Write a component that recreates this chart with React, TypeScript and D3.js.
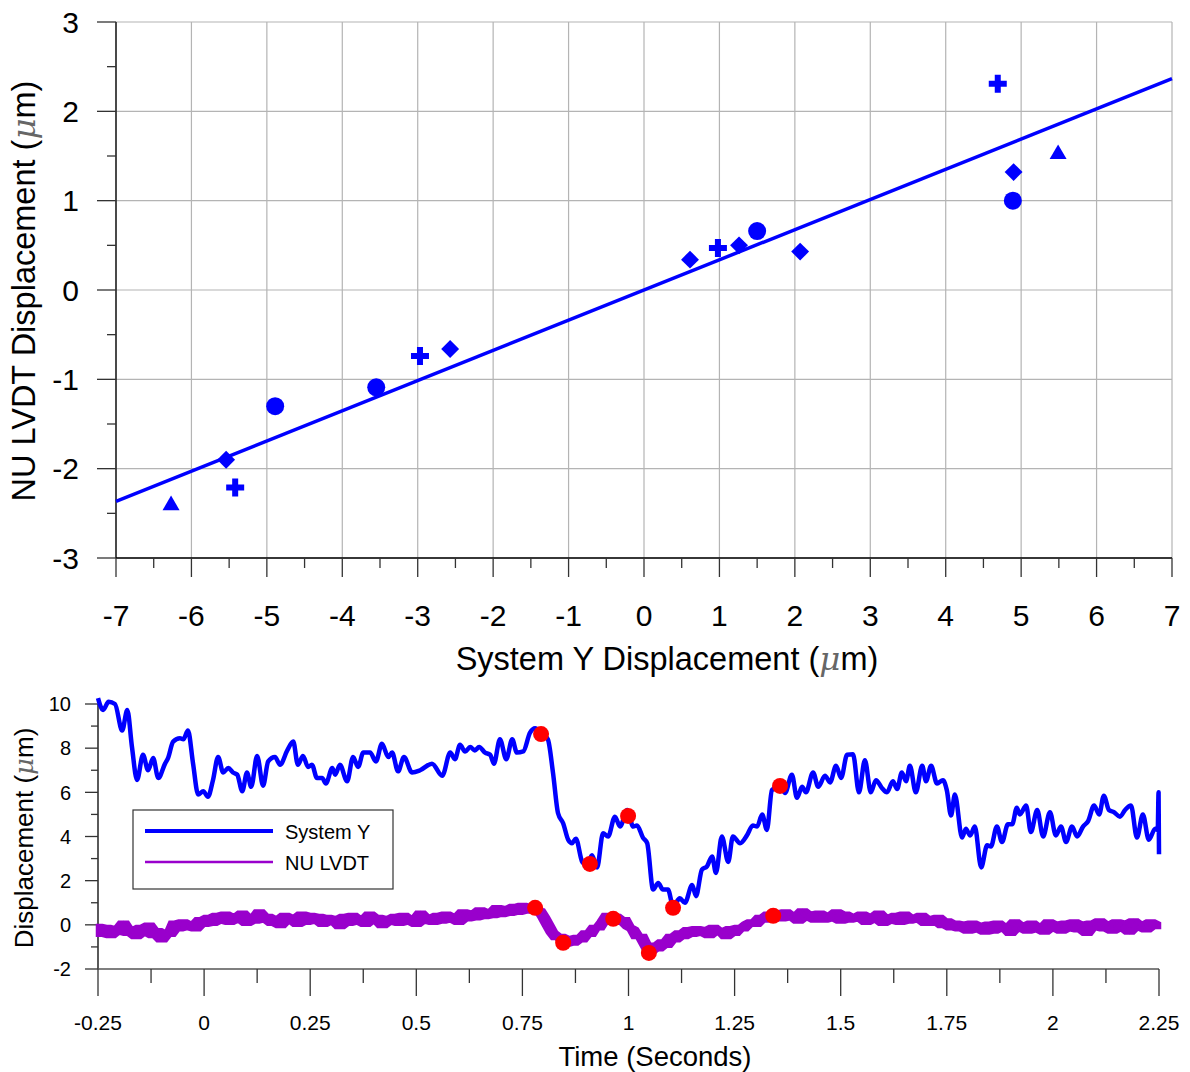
import React from 'react';
import * as d3 from 'd3';

// ---------- Top chart data ----------
const circleX = [-4.89, -3.55, 1.5, 4.89];
const circleY = [-1.3, -1.09, 0.66, 1.0];
const diamondX = [-5.54, -2.57, 0.61, 1.26, 2.07, 4.9];
const diamondY = [-1.9, -0.66, 0.34, 0.5, 0.43, 1.32];
const plusX = [-5.42, -2.97, 0.98, 4.69];
const plusY = [-2.21, -0.74, 0.47, 2.31];
const triangleX = [-6.27, 5.49];
const triangleY = [-2.41, 1.52];
const fitSlope = 0.338;
const fitXRange = [-7, 7];
const topXTicks = [-7, -6, -5, -4, -3, -2, -1, 0, 1, 2, 3, 4, 5, 6, 7];
const topYTicks = [-3, -2, -1, 0, 1, 2, 3];

// ---------- Bottom chart data ----------
const sysT = [
  -0.25, -0.238, -0.225, -0.21, -0.193, -0.181, -0.17, -0.158, -0.144, -0.132,
  -0.12, -0.108, -0.092, -0.085, -0.073, -0.057, -0.049, -0.038, -0.026, -0.014,
  -0.002, 0.009, 0.021, 0.033, 0.045, 0.057, 0.068, 0.078, 0.09, 0.101,
  0.111, 0.125, 0.139, 0.151, 0.167, 0.179, 0.196, 0.21, 0.221, 0.233,
  0.245, 0.254, 0.266, 0.278, 0.287, 0.302, 0.309, 0.32, 0.337, 0.351,
  0.363, 0.375, 0.391, 0.405, 0.419, 0.434, 0.443, 0.457, 0.471, 0.49,
  0.509, 0.537, 0.561, 0.58, 0.591, 0.603, 0.615, 0.627, 0.638, 0.648,
  0.662, 0.674, 0.683, 0.697, 0.712, 0.726, 0.737, 0.752, 0.768, 0.78,
  0.796, 0.81, 0.822, 0.834, 0.846, 0.858, 0.867, 0.876, 0.891, 0.902,
  0.914, 0.926, 0.94, 0.952, 0.968, 0.98, 0.997, 1.011, 1.02, 1.034,
  1.044, 1.058, 1.07, 1.081, 1.093, 1.105, 1.121, 1.133, 1.15, 1.159,
  1.173, 1.185, 1.197, 1.206, 1.22, 1.235, 1.246, 1.263, 1.279, 1.293,
  1.303, 1.315, 1.326, 1.338, 1.357, 1.369, 1.385, 1.397, 1.409, 1.418,
  1.435, 1.447, 1.463, 1.475, 1.489, 1.501, 1.515, 1.529, 1.543, 1.557,
  1.571, 1.583, 1.597, 1.609, 1.623, 1.633, 1.644, 1.654, 1.663, 1.677,
  1.692, 1.701, 1.713, 1.727, 1.741, 1.75, 1.76, 1.769, 1.786, 1.795,
  1.805, 1.816, 1.831, 1.845, 1.854, 1.868, 1.88, 1.894, 1.904, 1.915,
  1.922, 1.937, 1.948, 1.963, 1.977, 1.993, 2.007, 2.019, 2.031, 2.045,
  2.057, 2.071, 2.083, 2.097, 2.109, 2.12, 2.132, 2.144, 2.158, 2.17,
  2.184, 2.198, 2.212, 2.226, 2.241, 2.247, 2.249, 2.25,
];
const sysV = [
  10.27, 9.73, 10.1, 10.0, 8.8, 9.73, 8.06, 6.56, 7.7, 7.0,
  7.55, 6.65, 7.3, 7.55, 8.3, 8.45, 8.4, 8.8, 7.3, 5.9,
  6.05, 5.8, 6.56, 7.6, 6.9, 7.1, 6.9, 6.8, 6.05, 6.9,
  6.25, 7.65, 6.3, 7.4, 7.6, 7.25, 7.9, 8.3, 7.25, 7.65,
  7.15, 7.25, 6.65, 6.65, 6.4, 7.1, 6.8, 7.25, 6.5, 7.6,
  7.15, 7.8, 7.8, 7.4, 8.2, 7.6, 7.8, 6.95, 7.6, 6.9,
  7.0, 7.3, 6.75, 7.8, 7.5, 8.15, 7.85, 8.05, 7.9, 8.05,
  7.8, 7.7, 7.3, 8.4, 7.5, 8.4, 7.8, 7.85, 8.7, 8.9,
  8.65, 8.4, 6.9, 5.05, 4.6, 3.85, 3.7, 3.9, 2.85, 2.7,
  3.15, 2.6, 4.15, 4.0, 4.9, 4.45, 5.2, 4.45, 4.5, 3.95,
  3.7, 1.6, 1.9, 1.6, 1.6, 0.85, 1.2, 1.0, 1.8, 1.3,
  2.5, 2.65, 3.1, 2.35, 4.0, 2.85, 4.0, 3.7, 4.05, 4.5,
  4.45, 5.0, 4.3, 6.1, 6.3, 5.97, 6.8, 5.75, 6.25, 6.0,
  6.9, 6.25, 6.75, 6.45, 7.2, 6.65, 7.7, 7.72, 6.0, 7.45,
  6.0, 6.55, 6.2, 6.0, 6.5, 6.15, 6.9, 6.5, 7.2, 6.0,
  7.2, 6.5, 7.2, 6.4, 6.55, 6.1, 4.95, 5.9, 3.95, 4.35,
  4.05, 4.45, 2.6, 3.6, 3.55, 4.45, 3.75, 4.55, 4.55, 5.3,
  5.0, 5.4, 4.2, 5.2, 4.0, 5.1, 4.05, 4.45, 3.75, 4.45,
  4.0, 4.45, 4.7, 5.4, 5.0, 5.85, 5.2, 5.1, 4.9, 5.2,
  5.4, 3.95, 5.0, 3.85, 4.35, 4.3, 6.0, 3.2,
];

// NU LVDT samples every 0.01 s from -0.25 s
const lvdtStart = -0.25;
const lvdtStep = 0.01;
const lvdtV = [
  -0.05, -0.45, -0.1, -0.5, -0.15, -0.35, 0.1, -0.4, -0.2, -0.55,
  -0.1, -0.4, 0.0, -0.5, -0.25, -0.7, -0.35, -0.45, 0.1, -0.2,
  0.15, -0.15, 0.05, -0.2, 0.25, 0.0, 0.35, 0.05, 0.45, 0.15,
  0.5, 0.1, 0.4, 0.2, 0.55, 0.05, 0.35, 0.15, 0.6, 0.2,
  0.4, 0.05, 0.3, -0.05, 0.45, 0.15, 0.35, 0.0, 0.5, 0.1,
  0.45, 0.15, 0.4, 0.0, 0.35, 0.1, 0.3, -0.1, 0.4, 0.05,
  0.45, 0.1, 0.3, 0.0, 0.5, 0.15, 0.35, -0.05, 0.3, 0.1,
  0.4, 0.05, 0.45, 0.1, 0.3, 0.0, 0.55, 0.15, 0.35, 0.1,
  0.45, 0.15, 0.5, 0.2, 0.4, 0.1, 0.6, 0.25, 0.55, 0.3,
  0.7, 0.35, 0.6, 0.4, 0.8, 0.45, 0.75, 0.5, 0.85, 0.55,
  0.9, 0.6, 0.85, 0.7, 0.65, 0.35, 0.0, -0.35, -0.6, -0.5,
  -0.9, -0.6, -0.85, -0.55, -0.7, -0.35, -0.45, -0.1, -0.15, 0.15,
  0.45, 0.2, 0.4, 0.1, 0.25, -0.1, -0.2, -0.55, -0.5, -0.9,
  -1.25, -0.9, -1.1, -0.75, -0.95, -0.5, -0.7, -0.35, -0.55, -0.2,
  -0.45, -0.15, -0.4, -0.2, -0.5, -0.1, -0.35, -0.25, -0.55, -0.15,
  -0.4, -0.1, -0.2, 0.05, 0.15, 0.0, 0.35, 0.2, 0.5, 0.3,
  0.55, 0.25, 0.6, 0.3, 0.45, 0.15, 0.65, 0.3, 0.5, 0.2,
  0.55, 0.2, 0.45, 0.25, 0.6, 0.15, 0.5, 0.2, 0.4, 0.25,
  0.5, 0.1, 0.4, 0.2, 0.55, 0.05, 0.35, 0.15, 0.45, 0.1,
  0.5, 0.15, 0.35, 0.2, 0.45, 0.05, 0.3, 0.1, 0.35, -0.05,
  0.2, -0.15, 0.1, -0.2, 0.05, -0.3, 0.1, -0.25, 0.0, -0.35,
  0.05, -0.3, 0.1, -0.2, -0.05, -0.4, 0.15, -0.2, 0.0, -0.3,
  0.1, -0.25, -0.05, -0.35, 0.15, -0.2, 0.05, -0.3, 0.1, -0.2,
  0.15, -0.25, 0.05, -0.4, 0.1, -0.15, 0.2, -0.2, 0.05, -0.3,
  0.15, -0.2, 0.1, -0.35, 0.2, -0.15, 0.05, -0.25, 0.15, -0.1,
  0.05,
];

const sysDotT = [0.794, 0.909, 0.999, 1.105, 1.357];
const sysDotV = [8.64, 2.76, 4.93, 0.77, 6.29];
const lvdtDotT = [0.78, 0.846, 0.964, 1.048, 1.341];
const lvdtDotV = [0.77, -0.81, 0.27, -1.27, 0.41];

const botXTicks = [-0.25, 0, 0.25, 0.5, 0.75, 1, 1.25, 1.5, 1.75, 2, 2.25];
const botXLabels = ['-0.25', '0', '0.25', '0.5', '0.75', '1', '1.25', '1.5', '1.75', '2', '2.25'];
const botYTicks = [-2, 0, 2, 4, 6, 8, 10];
const legendLabels = ['System Y', 'NU LVDT'];

const FONT = "'Liberation Sans', Arial, Helvetica, sans-serif";
const BLUE = '#0000ff';
const PURPLE = '#9900cc';
const RED = '#ff0000';
const GRID = '#b4b4b4';

const Mu = () => (
  <tspan fontFamily="'DejaVu Serif', 'Liberation Serif', serif" fontStyle="italic" fontWeight={200} fill="#666">μ</tspan>
);

export default function App() {
  const xT = d3.scaleLinear().domain([-7, 7]).range([116, 1172]);
  const yT = d3.scaleLinear().domain([-3, 3]).range([558, 22]);
  const xB = d3.scaleLinear().domain([-0.25, 2.25]).range([98, 1159]);
  const yB = d3.scaleLinear().domain([-2, 10]).range([969, 704]);

  const topMinorX = d3.range(-6.5, 7, 1);
  const topMinorY = d3.range(-2.5, 3, 1);
  const botMinorX = d3.range(-0.125, 2.25, 0.25);
  const botMinorY = [-1, 1, 3, 5, 7, 9];

  const sym = (type: any, size: number) => d3.symbol().type(type).size(size)() as string;
  const triPath = sym(d3.symbolTriangle, 125);
  const diamondPath = sym(d3.symbolSquare, 160);
  const crossPath = sym(d3.symbolCross, 180);

  const sysLine = d3
    .line<number>()
    .x((_, i) => xB(sysT[i]))
    .y((d) => yB(d))
    .curve(d3.curveMonotoneX)(sysV) as string;

  const lvdtX = (i: number) => xB(lvdtStart + i * lvdtStep);
  const lvdtLine = d3
    .line<number>()
    .x((_, i) => lvdtX(i))
    .y((d) => yB(d))(lvdtV) as string;

  // band covered by the noisy trace (extent of neighbouring samples)
  const win = (i: number) => lvdtV.slice(Math.max(0, i - 1), Math.min(lvdtV.length, i + 2));
  const lvdtBand = d3
    .area<number>()
    .x((_, i) => lvdtX(i))
    .y0((_, i) => yB(d3.min(win(i)) as number))
    .y1((_, i) => yB(d3.max(win(i)) as number))(lvdtV) as string;

  return (
    <svg
      width={1190}
      height={1072}
      style={{ position: 'absolute', left: 0, top: 0, background: '#fff' }}
      fontFamily={FONT}
    >
      <rect x={0} y={0} width={1190} height={1072} fill="#fff" />
      {/* ================= TOP CHART ================= */}
      {topXTicks.map((t) => (
        <line key={'gx' + t} x1={xT(t)} x2={xT(t)} y1={yT(3)} y2={yT(-3)} stroke={GRID} strokeWidth={1.2} />
      ))}
      {topYTicks.map((t) => (
        <line key={'gy' + t} x1={xT(-7)} x2={xT(7)} y1={yT(t)} y2={yT(t)} stroke={GRID} strokeWidth={1.2} />
      ))}
      <line x1={xT(-7)} x2={xT(-7)} y1={yT(3)} y2={yT(-3)} stroke="#000" strokeWidth={1.3} />
      <line x1={xT(-7)} x2={xT(7)} y1={yT(-3)} y2={yT(-3)} stroke="#000" strokeWidth={1.3} />
      {topYTicks.map((t) => (
        <g key={'yt' + t}>
          <line x1={xT(-7) - 19} x2={xT(-7)} y1={yT(t)} y2={yT(t)} stroke="#333" strokeWidth={1.3} />
          <text x={79} y={yT(t)} dy="0.36em" textAnchor="end" fontSize={30}>
            {t}
          </text>
        </g>
      ))}
      {topMinorY.map((t) => (
        <line key={'ymt' + t} x1={xT(-7) - 9} x2={xT(-7)} y1={yT(t)} y2={yT(t)} stroke="#333" strokeWidth={1.3} />
      ))}
      {topXTicks.map((t) => (
        <g key={'xt' + t}>
          <line x1={xT(t)} x2={xT(t)} y1={yT(-3)} y2={yT(-3) + 19} stroke="#333" strokeWidth={1.3} />
          <text x={xT(t)} y={626} textAnchor="middle" fontSize={30}>
            {t}
          </text>
        </g>
      ))}
      {topMinorX.map((t) => (
        <line key={'xmt' + t} x1={xT(t)} x2={xT(t)} y1={yT(-3)} y2={yT(-3) + 10} stroke="#333" strokeWidth={1.3} />
      ))}
      <text x={667} y={670} textAnchor="middle" fontSize={32.5}>
        System Y Displacement (<Mu />m)
      </text>
      <text transform={`translate(35,${yT(0) + 1}) rotate(-90)`} textAnchor="middle" fontSize={32.5}>
        NU LVDT Displacement (<Mu />m)
      </text>
      <line
        x1={xT(fitXRange[0])}
        y1={yT(fitSlope * fitXRange[0])}
        x2={xT(fitXRange[1])}
        y2={yT(fitSlope * fitXRange[1])}
        stroke={BLUE}
        strokeWidth={3.5}
      />
      {circleX.map((x, i) => (
        <circle key={'c' + i} cx={xT(x)} cy={yT(circleY[i])} r={9} fill={BLUE} />
      ))}
      {diamondX.map((x, i) => (
        <path key={'d' + i} d={diamondPath} transform={`translate(${xT(x)},${yT(diamondY[i])}) rotate(45)`} fill={BLUE} />
      ))}
      {plusX.map((x, i) => (
        <path key={'p' + i} d={crossPath} transform={`translate(${xT(x)},${yT(plusY[i])})`} fill={BLUE} />
      ))}
      {triangleX.map((x, i) => (
        <path key={'t' + i} d={triPath} transform={`translate(${xT(x)},${yT(triangleY[i])})`} fill={BLUE} />
      ))}

      {/* ================= BOTTOM CHART ================= */}
      <line x1={xB(-0.25)} x2={xB(-0.25)} y1={yB(10)} y2={yB(-2)} stroke="#000" strokeWidth={1.3} />
      <line x1={xB(-0.25)} x2={xB(2.25)} y1={yB(-2)} y2={yB(-2)} stroke="#555" strokeWidth={1.3} />
      {botYTicks.map((t) => (
        <g key={'byt' + t}>
          <line x1={xB(-0.25) - 13} x2={xB(-0.25)} y1={yB(t)} y2={yB(t)} stroke="#333" strokeWidth={1.3} />
          <text x={71} y={yB(t)} dy="0.36em" textAnchor="end" fontSize={20}>
            {t}
          </text>
        </g>
      ))}
      {botMinorY.map((t) => (
        <line key={'bymt' + t} x1={xB(-0.25) - 7} x2={xB(-0.25)} y1={yB(t)} y2={yB(t)} stroke="#333" strokeWidth={1.3} />
      ))}
      {botXTicks.map((t, i) => (
        <g key={'bxt' + t}>
          <line x1={xB(t)} x2={xB(t)} y1={yB(-2)} y2={yB(-2) + 27} stroke="#333" strokeWidth={1.3} />
          <text x={xB(t)} y={1030} textAnchor="middle" fontSize={21}>
            {botXLabels[i]}
          </text>
        </g>
      ))}
      {botMinorX.map((t) => (
        <line key={'bxmt' + t} x1={xB(t)} x2={xB(t)} y1={yB(-2)} y2={yB(-2) + 14} stroke="#333" strokeWidth={1.3} />
      ))}
      <text x={655} y={1066} textAnchor="middle" fontSize={27.5}>
        Time (Seconds)
      </text>
      <text transform={`translate(33,838) rotate(-90)`} textAnchor="middle" fontSize={26}>
        Displacement (<Mu />m)
      </text>

      <path d={lvdtBand} fill={PURPLE} stroke={PURPLE} strokeWidth={4.5} strokeLinejoin="miter" strokeMiterlimit={3} />
      <path d={lvdtLine} fill="none" stroke={PURPLE} strokeWidth={1.6} strokeLinejoin="miter" />
      <path d={sysLine} fill="none" stroke={BLUE} strokeWidth={4.5} strokeLinejoin="round" />
      {sysDotT.map((t, i) => (
        <circle key={'sd' + i} cx={xB(t)} cy={yB(sysDotV[i])} r={8} fill={RED} />
      ))}
      {lvdtDotT.map((t, i) => (
        <circle key={'ld' + i} cx={xB(t)} cy={yB(lvdtDotV[i])} r={8} fill={RED} />
      ))}

      <rect x={133} y={810} width={260} height={79} fill="#fff" stroke="#333" strokeWidth={1.2} />
      <line x1={145} x2={273} y1={831} y2={831} stroke={BLUE} strokeWidth={4} />
      <line x1={145} x2={273} y1={862} y2={862} stroke={PURPLE} strokeWidth={2.5} />
      <text x={285} y={839} fontSize={20}>
        {legendLabels[0]}
      </text>
      <text x={285} y={870} fontSize={20}>
        {legendLabels[1]}
      </text>
    </svg>
  );
}
